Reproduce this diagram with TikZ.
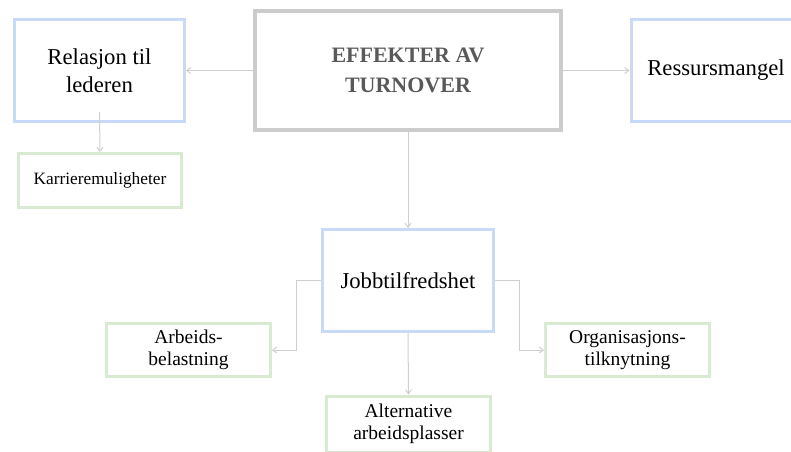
\documentclass[tikz,border=0pt]{standalone}
\usepackage{fontspec}
\setmainfont{Liberation Serif}
\usepackage{xcolor}
\usetikzlibrary{arrows.meta, positioning, calc}

\definecolor{boxblue}{HTML}{C9DAF8}
\definecolor{boxgreen}{HTML}{D9EAD3}
\definecolor{boxgrey}{HTML}{CCCCCC}
\definecolor{linkgrey}{HTML}{CFCFCF}
\definecolor{titlegrey}{HTML}{595959}

\tikzset{
  mainbox/.style={draw=boxgrey, line width=4pt, fill=white, align=center, inner sep=2pt,
    text=titlegrey, font=\fontsize{22}{30}\selectfont\bfseries},
  topicbox/.style={draw=boxblue, line width=3pt, fill=white, align=center, inner sep=2pt,
    font=\fontsize{22.7}{28}\selectfont},
  factorbox/.style={draw=boxgreen, line width=3pt, fill=white, align=center, inner sep=2pt,
    font=\fontsize{19.5}{22}\selectfont},
  link/.style={draw=linkgrey, line width=1pt, -{Straight Barb[length=4pt, width=6pt]}},
}

\begin{document}
\begin{tikzpicture}[x=1pt, y=-1pt]

\useasboundingbox (0,0) rectangle (791,451);

% Uniform box size

\def\topicwidth{170pt}
\def\topicheight{102pt}
\def\factorwidth{164pt}
\def\factorheight{53pt}

\node[mainbox, minimum width=306pt, minimum height=119pt]
(eff) at (408,70.5) {EFFEKTER AV\\TURNOVER};
\node[topicbox, minimum width=\topicwidth, minimum height=\topicheight]
(rel) at (99.5,70.5) {Relasjon til\\lederen};
\node[topicbox, minimum width=\topicwidth, minimum height=\topicheight]
(res) at (716,70.5) {Ressursmangel};
\node[factorbox, minimum width=163pt, minimum height=54pt, font=\fontsize{17.3}{20}\selectfont]
(kar) at (100,180.5) {Karrieremuligheter};
\node[topicbox, minimum width=171pt, minimum height=\topicheight]
(job) at (408,280.5) {Jobbtilfredshet};
\node[factorbox, minimum width=\factorwidth, minimum height=\factorheight]
(arb) at (188.5,350) {Arbeids-\\belastning};
\node[factorbox, minimum width=\factorwidth, minimum height=\factorheight]
(org) at (627.5,350) {Organisasjons-\\tilknytning};
\node[factorbox, minimum width=\factorwidth, minimum height=56pt]
(alt) at (408.5,424) {Alternative\\arbeidsplasser};

\draw[link] (eff.west) -- (rel.east);
\draw[link] (eff.east) -- (res.west);
\draw[link] ([yshift=11pt]rel.south) -- (kar.north);
\draw[link] (eff.south) -- (job.north);

% Jobbtilfredshet branches
\draw[link] (job.west) -- ++(-25,0) |- (arb.east);
\draw[link] (job.east) -- ++(24,0) |- (org.west);
\draw[link] (job.south) -- (alt.north);

\end{tikzpicture}
\end{document}
